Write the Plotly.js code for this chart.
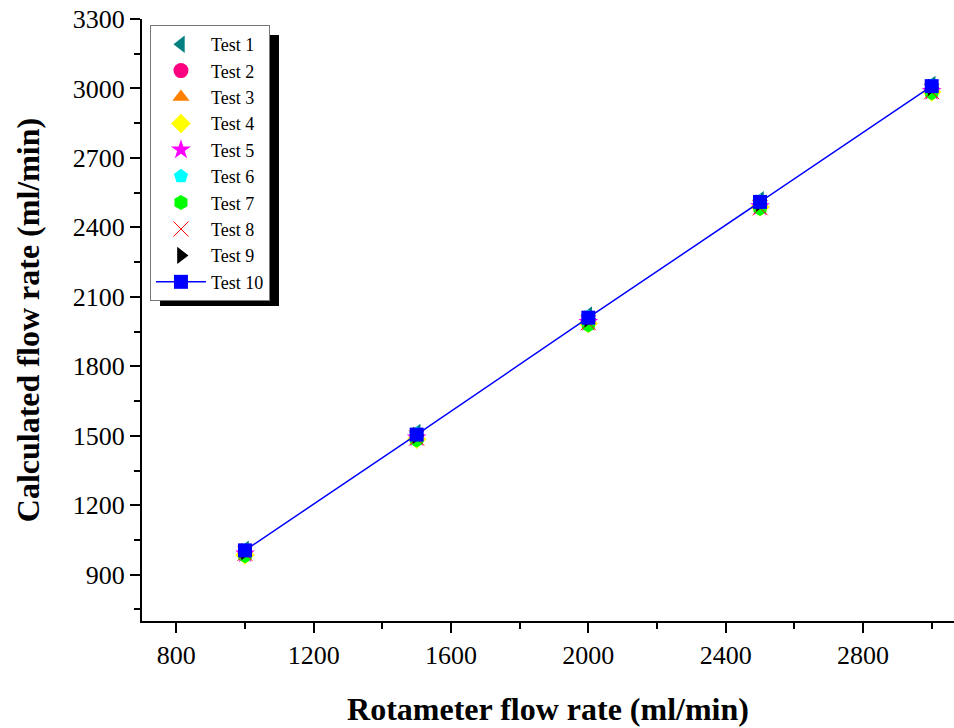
<!DOCTYPE html>
<html>
<head>
<meta charset="utf-8">
<script src="https://cdn.plot.ly/plotly-3.0.1.min.js"></script>
<style>body{margin:0;padding:0;background:#fff;} #chart{width:954px;height:728px;}</style>
</head>
<body>
<div id="chart"></div>
<script>
const rotameter = [1000, 1500, 2000, 2500, 3000];
const test1 = [1010, 1515, 2022, 2520, 3018];
const test2 = [995, 1495, 1995, 2492, 2990];
const test3 = [1000, 1500, 2000, 2498, 2998];
const test4 = [985, 1485, 1985, 2488, 2985];
const test5 = [990, 1492, 1990, 2490, 2988];
const test6 = [1005, 1508, 2012, 2512, 3012];
const test7 = [982, 1482, 1978, 2482, 2982];
const test8 = [992, 1490, 1988, 2485, 2986];
const test9 = [1000, 1502, 2005, 2505, 3005];
const test10 = [1005, 1505, 2010, 2510, 3010];

const seriesNames = ['Test 1','Test 2','Test 3','Test 4','Test 5','Test 6','Test 7','Test 8','Test 9','Test 10'];
const seriesValues = [test1,test2,test3,test4,test5,test6,test7,test8,test9,test10];
const colors = ['#008080','#FF0080','#FF8000','#FFFF00','#FF00FF','#00FFFF','#00FF00','#FF0000','#000000','#0000FF'];
const symbols = ['triangle-left','circle','triangle-up','diamond','star','pentagon','hexagon','x-thin-open','triangle-right','square'];
const sizes = [15,15,15,15,15,15,15,15,15,14];

const traces = seriesNames.map((n,i) => {
  const t = {
    x: rotameter, y: seriesValues[i], name: n, type: 'scatter',
    mode: i === 9 ? 'lines+markers' : 'markers',
    marker: {symbol: symbols[i], color: colors[i], size: sizes[i]},
    cliponaxis: false
  };
  if (symbols[i] === 'x-thin-open') t.marker.line = {color: colors[i], width: 1};
  else t.marker.line = {width: 0};
  if (i === 9) t.line = {color: '#0000FF', width: 1.5};
  return t;
});

const font = '"Liberation Serif", "Times New Roman", serif';
const layout = {
  width: 954, height: 728,
  margin: {l: 142, r: 0, t: 19, b: 107},
  paper_bgcolor: '#fff', plot_bgcolor: '#fff',
  font: {family: font, color: '#000'},
  showlegend: true,
  legend: {
    x: 0.0098, y: 0.99, xanchor: 'left', yanchor: 'top',
    bgcolor: '#fff', bordercolor: '#777', borderwidth: 1,
    font: {family: font, size: 18, color: '#000'},
    tracegroupgap: 0, itemwidth: 50
  },
  xaxis: {
    range: [700, 3065], showgrid: false, zeroline: false,
    showline: true, linecolor: '#000', linewidth: 2,
    ticks: 'outside', ticklen: 10, tickwidth: 2, tickcolor: '#000',
    tick0: 800, dtick: 400,
    minor: {ticks: 'outside', ticklen: 6, tickwidth: 2, tickcolor: '#000', dtick: 200},
    tickfont: {family: font, size: 26, color: '#000'},
    title: {text: '<b>Rotameter flow rate (ml/min)</b>', font: {family: font, size: 32, color: '#000'}, standoff: 28}
  },
  yaxis: {
    range: [700, 3300], showgrid: false, zeroline: false,
    showline: true, linecolor: '#000', linewidth: 2,
    ticks: 'outside', ticklen: 10, tickwidth: 2, tickcolor: '#000',
    tick0: 900, dtick: 300,
    minor: {ticks: 'outside', ticklen: 6, tickwidth: 2, tickcolor: '#000', dtick: 150},
    tickfont: {family: font, size: 26, color: '#000'},
    title: {text: '<b>Calculated flow rate (ml/min)</b>', font: {family: font, size: 32, color: '#000'}, standoff: 24}
  },
  shapes: [
    {type: 'rect', xref: 'paper', yref: 'paper', layer: 'below',
     x0: 0.0222, x1: 0.1687, y0: 0.5233, y1: 0.9734,
     fillcolor: '#000', line: {width: 0}}
  ]
};

Plotly.newPlot('chart', traces, layout, {displayModeBar: false, staticPlot: true});
</script>
</body>
</html>
